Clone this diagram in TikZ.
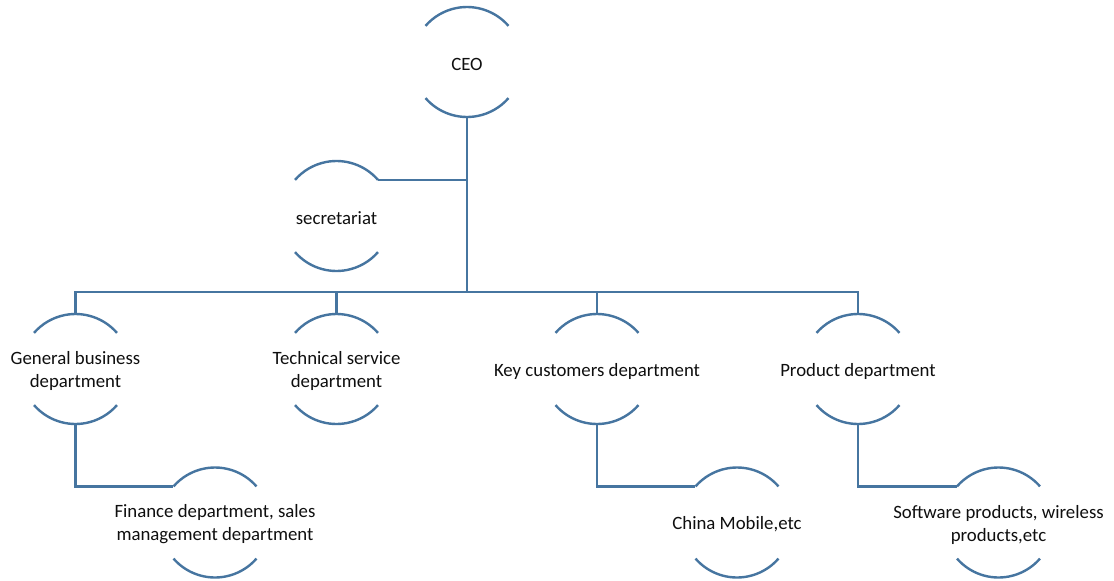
\documentclass[tikz,border=0pt]{standalone}
\usepackage{fontspec}
\setmainfont{Carlito}
\definecolor{linec}{RGB}{70,117,160}
\definecolor{txtc}{RGB}{15,15,15}
\tikzset{
  ln/.style={draw=linec,line width=2.4pt},
  txt/.style={align=center,text=txtc,font=\fontsize{18.8}{23}\selectfont,inner sep=0pt},
}
\newcommand{\orgnode}[4]{%
  \coordinate (#1-c) at (#2pt,-#3pt);
  \node[txt] (#1) at ([yshift=-2pt]#1-c) {#4};
  \coordinate (#1-t) at ([yshift=55pt]#1-c);
  \coordinate (#1-b) at ([yshift=-55pt]#1-c);
  \coordinate (#1-r) at ([shift={(41:55pt)}]#1-c);
  \coordinate (#1-l) at ([shift={(139:55pt)}]#1-c);
  \draw[ln] (#1-r) arc[start angle=41,end angle=139,radius=55pt];
  \draw[ln] ([shift={(221:55pt)}]#1-c) arc[start angle=221,end angle=319,radius=55pt];
}
\begin{document}
\begin{tikzpicture}[x=1pt,y=1pt]
\useasboundingbox[fill=white] (0,0) rectangle (1114,-581);
\orgnode{ceo}{467}{62}{CEO}
\orgnode{sec}{336.5}{216}{secretariat}
\orgnode{gen}{75.5}{369}{General business\\department}
\orgnode{tech}{336.5}{369}{Technical service\\department}
\orgnode{key}{597}{369}{Key customers department}
\orgnode{prod}{858}{369}{Product department}
\orgnode{fin}{215}{522.5}{Finance department, sales\\management department}
\orgnode{cm}{737}{522.5}{China Mobile,etc}
\orgnode{soft}{998.5}{522.5}{Software products, wireless\\products,etc}
\coordinate (bar) at (467,-292);
\draw[ln] (ceo-b) -- (bar);
\draw[ln] (sec-r) -- (sec-r -| ceo-b);
\draw[ln] (gen-t) |- (bar) -| (prod-t);
\draw[ln] (tech-t) -- (tech-t |- bar);
\draw[ln] (key-t) -- (key-t |- bar);
\draw[ln] (gen-b) |- (fin-l);
\draw[ln] (key-b) |- (cm-l);
\draw[ln] (prod-b) |- (soft-l);
\end{tikzpicture}
\end{document}
